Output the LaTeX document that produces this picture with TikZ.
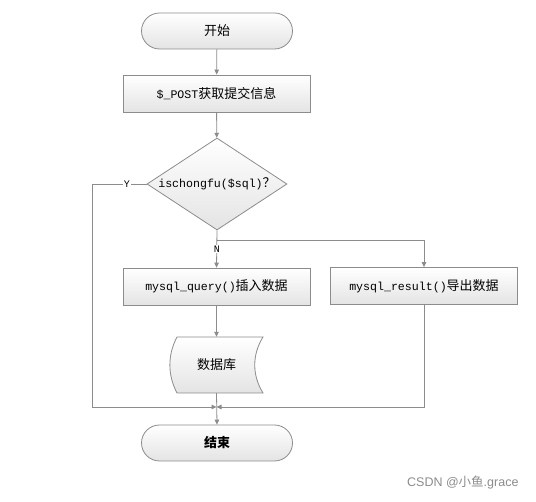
\documentclass[tikz,border=0pt]{standalone}
\usepackage{fontspec}
\setmonofont{Liberation Mono}
\setsansfont{Liberation Sans}
\newfontfamily\cjk{Noto Sans CJK SC}
\usetikzlibrary{shapes.geometric,shapes.misc,arrows.meta}
\definecolor{linegray}{HTML}{8C8C8C}
\definecolor{boxgray}{HTML}{E4E4E4}
\newcommand{\mono}[1]{{\ttfamily\fontsize{11.6}{13}\selectfont #1}}
\newcommand{\zh}[1]{{\cjk\fontsize{13}{15}\selectfont #1}}
\begin{document}
\begin{tikzpicture}[x=1pt,y=-1pt,
  box/.style={draw=linegray, line width=0.8pt, top color=white, bottom color=boxgray,
    minimum width=187pt, minimum height=37pt, inner sep=0pt},
  term/.style={rounded rectangle, draw=linegray, line width=0.8pt, top color=white,
    bottom color=boxgray, minimum width=151pt, minimum height=36pt, inner sep=0pt},
  decision/.style={diamond, draw=linegray, line width=0.8pt, top color=white,
    bottom color=boxgray, minimum width=140pt, minimum height=92pt, inner sep=0pt, aspect=1.52},
  conn/.style={draw=linegray, line width=0.8pt},
  arr/.style={conn, -{Triangle[length=5pt,width=4.5pt]}},
  lbl/.style={fill=white, inner sep=1pt, font=\ttfamily\fontsize{10}{12}\selectfont}
]
\useasboundingbox (0,0) rectangle (536,502);
\fill[white] (0,0) rectangle (536,502);

% nodes
\node[term] (start) at (217,31) {\zh{开始}};
\node[box] (post) at (216.5,93.5) {\mono{\$\_POST}\zh{获取提交信息}};
\node[decision] (dia) at (217,184) {\mono{ischongfu(\$sql)}\zh{？}};
\node[box] (query) at (216.5,286.5) {\mono{mysql\_query()}\zh{插入数据}};
\node[box] (result) at (424,286) {\mono{mysql\_result()}\zh{导出数据}};
% database (stored data) shape
\path[draw=linegray, line width=0.8pt, top color=white, bottom color=boxgray]
  (177,337) -- (263,337) .. controls (252,355) and (252,375) .. (263,393)
  -- (177,393) .. controls (167.5,375) and (167.5,355) .. (177,337) -- cycle;
\node[minimum width=86pt, minimum height=56pt, inner sep=0pt] (db) at (216.5,365) {\zh{数据库}};
\node[term] (end) at (217,443) {\zh{\bfseries 结束}};

\coordinate (merge) at (216.5,407);
\coordinate (yl) at (92,184);
\coordinate (nr) at (424,240);
\coordinate (nb) at (216.5,240);

% connectors
\draw[arr] (start) -- (post);
\draw[arr] (post) -- (dia);
\draw[arr] (dia.south) -- node[lbl, pos=0.5]{N} (query.north);
\draw[arr] (nb) -| (result.north);
\draw[arr] (dia.west) -- node[lbl, pos=0.36]{Y} (yl) |- (merge);
\draw[arr] (query) -- (db);
\draw[arr] (result.south) |- (merge);
\draw[arr] (db.south) -- (end.north);

% watermark
\node[text=black!45, font=\fontsize{12.5}{14}\selectfont\sffamily, anchor=east] (wm) at (522,483)
  {CSDN @{\cjk 小鱼}.grace};
\end{tikzpicture}
\end{document}
